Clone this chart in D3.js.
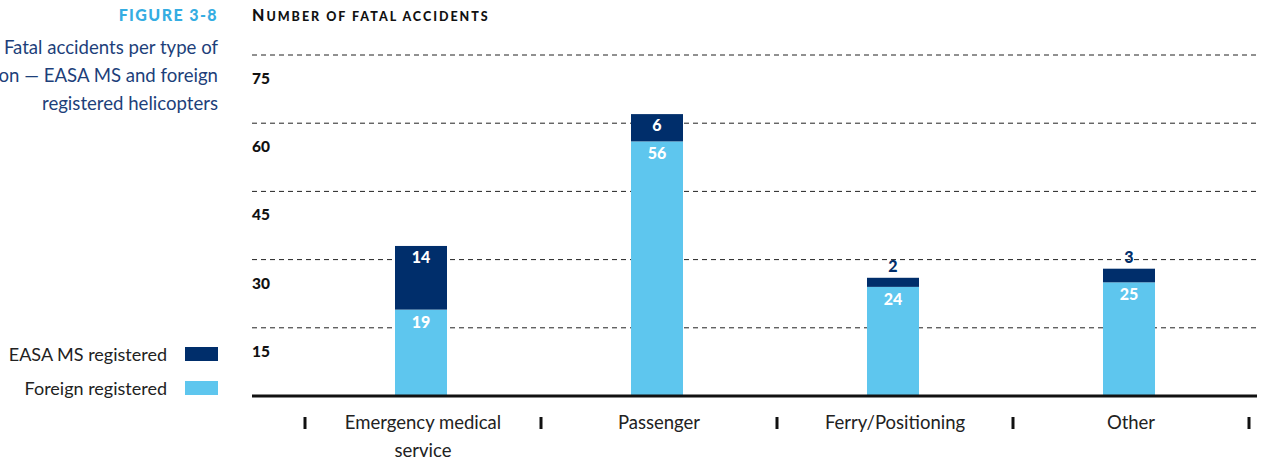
<!DOCTYPE html>
<html>
<head>
<meta charset="utf-8">
<script src="https://cdn.jsdelivr.net/npm/d3@7"></script>
<style>
  body { margin: 0; background: #fff; }
  text { font-family: Lato, "Open Sans", sans-serif; }
</style>
</head>
<body>
<div id="chart"></div>
<script>
// data
const categories = ["Emergency medical service", "Passenger", "Ferry/Positioning", "Other"];
const foreignValues = [19, 56, 24, 25];
const easaValues = [14, 6, 2, 3];
const yTicks = [15, 30, 45, 60, 75];
const seriesNames = ["EASA MS registered", "Foreign registered"];

const navy = "#002e6b", light = "#5ec6ee";

const width = 1261, height = 461;
const svg = d3.select("#chart").append("svg")
  .attr("width", width).attr("height", height);

// scales
const x = d3.scaleBand().domain(categories).range([305, 1249]).padding(0);
const y = d3.scaleLinear().domain([0, 75]).range([396, 55]);
const barW = 52;
const barMid = d => x(d) + x.bandwidth() / 2 - 2;

// left side titles
svg.append("text").attr("x", 218).attr("y", 21).attr("text-anchor", "end")
  .attr("fill", "#35ade2").attr("font-weight", 900).attr("font-size", 16)
  .attr("letter-spacing", 1.4).text("FIGURE 3-8");
["Fatal accidents per type of", "operation — EASA MS and foreign", "registered helicopters"].forEach((t, i) => {
  svg.append("text").attr("x", 218).attr("y", 54 + i * 28).attr("text-anchor", "end")
    .attr("fill", "#1d3f7a").attr("font-size", 18.6).text(t);
});

// chart title, drawn as small caps by hand
const title = svg.append("text").attr("x", 252).attr("y", 21)
  .attr("font-weight", 900).attr("fill", "#111").attr("letter-spacing", 2);
title.append("tspan").attr("font-size", 16).text("N");
title.append("tspan").attr("font-size", 12.5).text("UMBER OF FATAL ACCIDENTS");

// gridlines + y labels
const grid = svg.append("g");
grid.selectAll("line").data(yTicks).join("line")
  .attr("x1", 252).attr("x2", 1257)
  .attr("y1", d => y(d)).attr("y2", d => y(d))
  .attr("stroke", "#222").attr("stroke-width", 1).attr("stroke-dasharray", "5,4");
grid.selectAll("text").data(yTicks).join("text")
  .attr("x", 252).attr("y", d => y(d) + 29)
  .attr("font-weight", 900).attr("font-size", 15.5).attr("fill", "#111")
  .text(d => d);

// bars
const bars = svg.append("g");
bars.selectAll(".foreign").data(categories).join("rect")
  .attr("class", "foreign")
  .attr("x", d => barMid(d) - barW / 2)
  .attr("width", barW)
  .attr("y", (d, i) => y(foreignValues[i]))
  .attr("height", (d, i) => y(0) - y(foreignValues[i]))
  .attr("fill", light);
bars.selectAll(".easa").data(categories).join("rect")
  .attr("class", "easa")
  .attr("x", d => barMid(d) - barW / 2)
  .attr("width", barW)
  .attr("y", (d, i) => y(foreignValues[i] + easaValues[i]))
  .attr("height", (d, i) => y(foreignValues[i]) - y(foreignValues[i] + easaValues[i]))
  .attr("fill", navy);

// value labels
const lbl = svg.append("g").attr("text-anchor", "middle")
  .attr("font-weight", 900).attr("font-size", 16);
lbl.selectAll(".fl").data(categories).join("text")
  .attr("x", barMid)
  .attr("y", (d, i) => y(foreignValues[i]) + 18)
  .attr("fill", "#fff").text((d, i) => foreignValues[i]);
lbl.selectAll(".el").data(categories).join("text")
  .attr("x", barMid)
  .attr("y", (d, i) => {
    const top = y(foreignValues[i] + easaValues[i]);
    return easaValues[i] >= 5 ? top + 17 : top - 6;
  })
  .attr("fill", (d, i) => easaValues[i] >= 5 ? "#fff" : navy)
  .text((d, i) => easaValues[i]);

// baseline
svg.append("line").attr("x1", 252).attr("x2", 1257)
  .attr("y1", y(0)).attr("y2", y(0))
  .attr("stroke", "#111").attr("stroke-width", 3);

// band separators
const seps = categories.map(d => x(d)).concat([x.range()[1]]);
svg.selectAll(".sep").data(seps).join("line")
  .attr("x1", d => d).attr("x2", d => d)
  .attr("y1", 417).attr("y2", 429)
  .attr("stroke", "#111").attr("stroke-width", 3);

// category labels
const catLines = { "Emergency medical service": ["Emergency medical", "service"] };
categories.forEach(c => {
  const lines = catLines[c] || [c];
  lines.forEach((t, i) => {
    svg.append("text").attr("x", barMid(c) + 2).attr("y", 429 + i * 28)
      .attr("text-anchor", "middle").attr("font-size", 18.5).attr("fill", "#222").text(t);
  });
});

// legend
const legend = svg.append("g");
seriesNames.forEach((s, i) => {
  legend.append("rect").attr("x", 185).attr("y", 347 + i * 34)
    .attr("width", 33).attr("height", 14).attr("fill", i === 0 ? navy : light);
  legend.append("text").attr("x", 167).attr("y", 361 + i * 34).attr("text-anchor", "end")
    .attr("font-size", 18).attr("fill", "#222").text(s);
});
</script>
</body>
</html>
